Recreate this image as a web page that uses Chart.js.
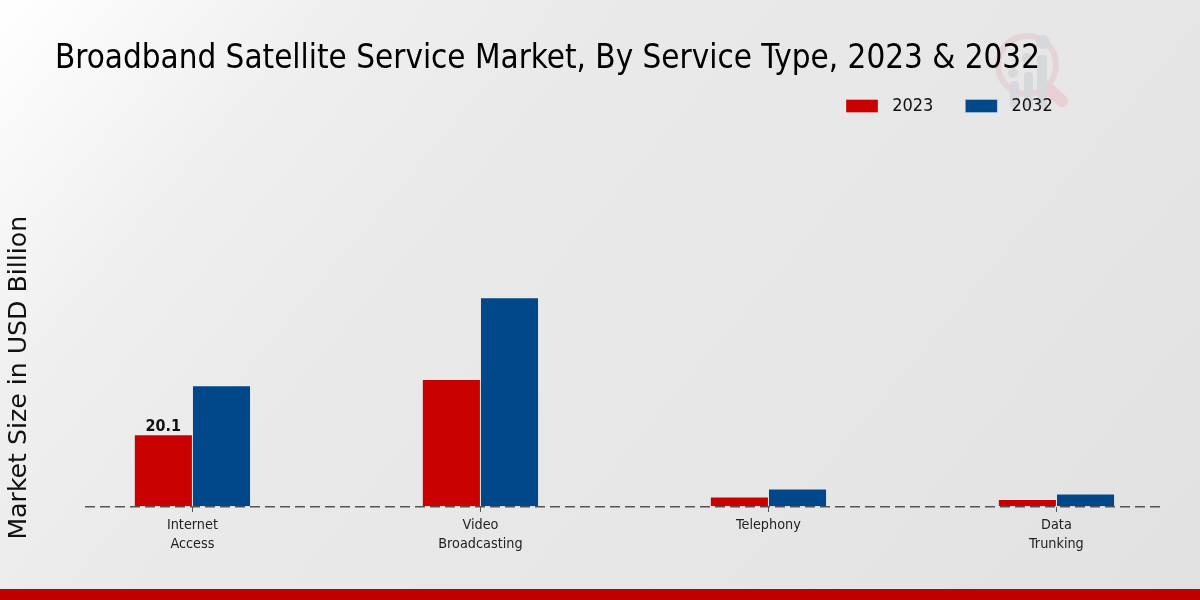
<!DOCTYPE html>
<html lang="en">
<head>
    <meta charset="UTF-8">
    <title>Broadband Satellite Service Market</title>
    <script src="https://cdn.jsdelivr.net/npm/chart.js"></script>
    <style>
        html, body { margin: 0; padding: 0; }
        body {
            position: relative;
            width: 1200px;
            height: 600px;
            overflow: hidden;
            background: linear-gradient(130deg, #ffffff 0%, #efeff0 20%, #e9e9e9 38%, #e6e6e6 70%, #e1e1e1 100%);
        }
        #logo { position: absolute; left: 0; top: 0; }
        #footerBar { position: absolute; left: 0; top: 589px; width: 1200px; height: 11px; background: #c00000; }
        canvas { position: absolute; left: 0; top: 0; }
    </style>
</head>
<body>
    <!-- Watermark behind the chart -->
    <svg id="logo" width="1200" height="600">
        <circle cx="1027" cy="65" r="29" fill="none" stroke="#e5d4d5" stroke-width="6"/>
        <line x1="1050" y1="90" x2="1062" y2="101" stroke="#e8cfd1" stroke-width="12" stroke-linecap="round"/>
        <rect x="1010" y="81" width="9" height="27" rx="4" fill="#d7d8db"/>
        <rect x="1024" y="72" width="9" height="36" rx="4" fill="#d7d8db"/>
        <rect x="1037" y="55" width="10" height="53" rx="4" fill="#d7d8db"/>
        <circle cx="1013" cy="73" r="5" fill="#d7d8db"/>
        <circle cx="1027" cy="58" r="5" fill="#d7d8db"/>
        <circle cx="1043" cy="42" r="7" fill="#d7d8db"/>
    </svg>
    <div id="footerBar"></div>
    <canvas id="marketChart" width="1200" height="600"></canvas>

    <script>
        // Values
        const categories = [["Internet", "Access"], ["Video", "Broadcasting"], ["Telephony"], ["Data", "Trunking"]];
        const values2023 = [20.1, 35.5, 2.8, 2.1];
        const values2032 = [33.8, 58.3, 5.0, 3.6];
        const labels2023 = ["20.1", "", "", ""];

        const condensed = "'DejaVu Sans Condensed', 'DejaVu Sans', sans-serif";

        // Title and legend sit at fixed spots that the layout boxes can't give
        const placeBlocks = {
            id: "placeBlocks",
            beforeDraw(chart) {
                const title = chart.titleBlock;
                title.left = 55;
                title.right = 1100;
                title.top = 40;
                title.bottom = title.top + title.height;
                const legend = chart.legend;
                // the legend adds its label padding (32) to these
                legend.left = 814;
                legend.right = 1100;
                legend.top = 65;
                legend.bottom = legend.top + legend.height;
            }
        };

        // Only the first bar carries a value label
        const barLabels = {
            id: "barLabels",
            afterDatasetsDraw(chart) {
                const ctx = chart.ctx;
                ctx.save();
                ctx.font = "bold 16px " + condensed;
                ctx.fillStyle = "#111111";
                ctx.textAlign = "center";
                ctx.textBaseline = "bottom";
                chart.getDatasetMeta(0).data.forEach((bar, i) => {
                    if (labels2023[i]) ctx.fillText(labels2023[i], bar.x, bar.y);
                });
                ctx.restore();
            }
        };

        new Chart(document.getElementById("marketChart"), {
            type: "bar",
            data: {
                datasets: [
                    {
                        label: "2023",
                        data: values2023.map((v, i) => ({ x: i, y: v })),
                        backgroundColor: "#c80000",
                        borderColor: "rgba(255,255,255,0.6)",
                        borderWidth: 0.5,
                        categoryPercentage: 0.404,
                        barPercentage: 1
                    },
                    {
                        label: "2032",
                        data: values2032.map((v, i) => ({ x: i, y: v })),
                        backgroundColor: "#00488a",
                        borderColor: "rgba(255,255,255,0.6)",
                        borderWidth: 0.5,
                        categoryPercentage: 0.404,
                        barPercentage: 1
                    }
                ]
            },
            plugins: [placeBlocks, barLabels],
            options: {
                responsive: false,
                animation: false,
                layout: { padding: { top: 0, right: 37, bottom: 0, left: 0 } },
                plugins: {
                    tooltip: { enabled: false },
                    title: {
                        display: true,
                        text: "Broadband Satellite Service Market, By Service Type, 2023 & 2032",
                        align: "start",
                        color: "#000000",
                        font: { family: condensed, size: 32.9, weight: "normal" },
                        padding: { top: 0, bottom: 149 }
                    },
                    legend: {
                        position: "top",
                        align: "start",
                        labels: {
                            boxWidth: 32,
                            boxHeight: 13,
                            padding: 32,
                            color: "#111111",
                            font: { family: condensed, size: 18 },
                            // leading space widens the gap after the swatch
                            generateLabels(chart) {
                                return Chart.defaults.plugins.legend.labels.generateLabels(chart)
                                    .map(item => ({ ...item, text: " " + item.text }));
                            }
                        }
                    }
                },
                scales: {
                    x: {
                        type: "linear",
                        offset: false,
                        min: -0.373,
                        max: 3.37,
                        afterBuildTicks(axis) {
                            axis.ticks = categories.map((c, i) => ({ value: i }));
                        },
                        afterFit(axis) { axis.height = 93; },
                        ticks: {
                            autoSkip: false,
                            maxRotation: 0,
                            color: "#222222",
                            font: { family: condensed, size: 14.3, lineHeight: 1.33 },
                            padding: 4,
                            callback: value => categories[value]
                        },
                        grid: { offset: false, drawOnChartArea: false, drawTicks: true, tickLength: 5, tickColor: "#555555" },
                        border: { display: false }
                    },
                    y: {
                        // grid line at zero is the dashed baseline, drawn over the bars
                        z: 1,
                        min: 0,
                        max: 72,
                        afterFit(axis) { axis.width = 85; },
                        ticks: { display: false, stepSize: 72 },
                        grid: {
                            drawTicks: false,
                            lineWidth: 1.5,
                            color: ctx => ctx.tick.value === 0 ? "#555555" : "transparent"
                        },
                        border: { display: false, dash: [10, 5] },
                        title: {
                            display: true,
                            text: "Market Size in USD Billion",
                            color: "#111111",
                            font: { family: "'DejaVu Sans', sans-serif", size: 25.2 },
                            padding: { top: 4, bottom: 0 }
                        }
                    }
                }
            }
        });
    </script>
</body>
</html>
